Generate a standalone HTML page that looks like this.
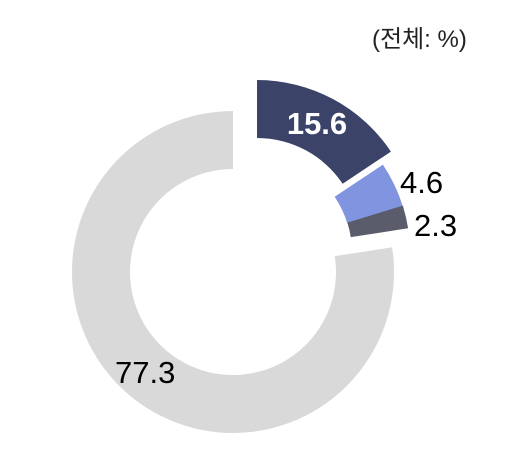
<!DOCTYPE html>
<html><head><meta charset="utf-8"><style>
body{margin:0;background:#fff;width:512px;height:462px;overflow:hidden}
svg{display:block}
text{font-family:"Liberation Sans","Noto Sans CJK KR",sans-serif}
</style></head><body>
<svg id="c" width="512" height="462">
<text x="372" y="47" font-size="24" fill="#222">(전체: %)</text>
</svg>
<script>
const categories = ['A','B','C','D'];
const values = [15.6, 4.6, 2.3, 77.3];
const labels = ['15.6','4.6','2.3','77.3'];
const colors = ['#3b4468','#8094e0','#5a5b6b','#d9d9d9'];
const offsets = [[24,-31],[16,-18],[16,-19],[0,0]];
const labelPos = [[317,134,'#fff','bold','middle'],[400,193,'#000','normal','start'],[414,236,'#000','normal','start'],[115,383,'#000','normal','start']];
const cx=233, cy=272, R=161, r=103;
const svg=document.getElementById('c');
const NS='http://www.w3.org/2000/svg';
const total=values.reduce((a,b)=>a+b,0);
function pt(a,rad,o){return [cx+o[0]+rad*Math.sin(a), cy+o[1]-rad*Math.cos(a)];}
let acc=0;
values.forEach((v,i)=>{
  const a0=acc/total*2*Math.PI; acc+=v; const a1=acc/total*2*Math.PI;
  const o=offsets[i], large=(a1-a0)>Math.PI?1:0;
  const p1=pt(a0,R,o),p2=pt(a1,R,o),p3=pt(a1,r,o),p4=pt(a0,r,o);
  const p=document.createElementNS(NS,'path');
  p.setAttribute('d',`M${p1}A${R},${R} 0 ${large} 1 ${p2}L${p3}A${r},${r} 0 ${large} 0 ${p4}Z`);
  p.setAttribute('fill',colors[i]);
  
  
  svg.appendChild(p);
});
labels.forEach((l,i)=>{
  const lp=labelPos[i];
  const t=document.createElementNS(NS,'text');
  t.setAttribute('x',lp[0]);t.setAttribute('y',lp[1]);
  t.setAttribute('fill',lp[2]);t.setAttribute('font-weight',lp[3]);
  t.setAttribute('text-anchor',lp[4]);t.setAttribute('font-size','31');
  t.textContent=l;
  
  
  svg.appendChild(t);
});
</script>
</body></html>
